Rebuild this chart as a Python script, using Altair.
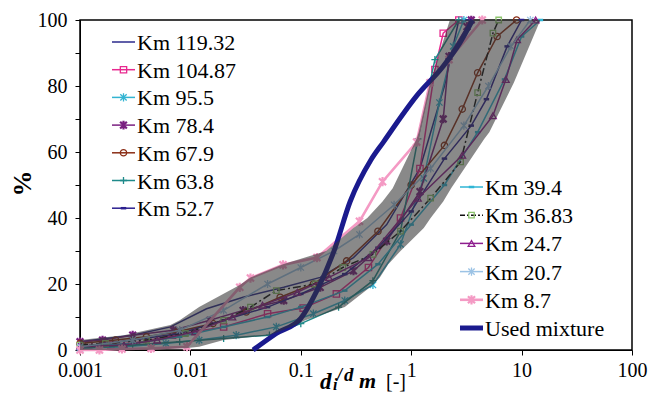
import altair as alt
import pandas as pd

# ---------------- data ----------------
km119_x = [0.001, 0.003, 0.0066, 0.014, 0.03, 0.07, 0.15, 0.3, 0.6, 1.2, 2.0, 2.7, 3.6]
km119_y = [2.5, 4.5, 7, 12.5, 16, 19, 22, 28, 38, 55, 80, 100, 100]

km104_x = [0.0012, 0.0019, 0.0037, 0.0069, 0.02, 0.05, 0.105, 0.21, 0.41, 0.8, 1.2, 1.64, 1.95, 2.7]
km104_y = [1.5, 1.5, 2.5, 4.5, 7, 11, 12.7, 17, 25, 40, 55, 85, 96, 100]

km95_x = [0.001, 0.0025, 0.006, 0.012, 0.026, 0.06, 0.13, 0.25, 0.45, 0.8, 1.3, 1.8, 2.4, 3.0]
km95_y = [0.5, 1, 2, 3, 4.5, 7, 11, 15, 19.7, 32, 52, 75, 92, 100]

km78_x = [0.001, 0.0016, 0.003, 0.007, 0.015, 0.03, 0.07, 0.15, 0.3, 0.6, 1.2, 1.95, 2.2, 3.2, 3.5]
km78_y = [2.5, 3, 4.5, 6, 9, 12, 15, 19, 24, 33, 48, 70, 89, 98, 100]

km67_x = [0.001, 0.0021, 0.004, 0.0076, 0.016, 0.032, 0.065, 0.13, 0.26, 0.5, 1.0, 2.0, 2.9, 4.0, 6.0, 9.0]
km67_y = [2, 3, 4, 5.5, 8, 11.5, 16, 20, 27, 36, 50, 62, 73, 84, 95, 100]

km63_x = [0.001, 0.003, 0.008, 0.02, 0.052, 0.1, 0.22, 0.45, 0.8, 1.15, 1.64, 2.7]
km63_y = [0.5, 1.5, 2.5, 3.5, 4.5, 8, 13, 21, 36, 64, 88, 100]

km52_x = [0.001, 0.003, 0.008, 0.02, 0.05, 0.1, 0.25, 0.5, 1, 2, 3.5, 4.8, 7.4, 10]
km52_y = [1, 3, 5, 9, 13, 17, 23, 31, 42, 58, 68, 76, 92, 100]

km39_x = [0.001, 0.003, 0.008, 0.02, 0.05, 0.1, 0.25, 0.5, 1, 2, 4, 7, 10, 14.8]
km39_y = [1, 2, 4, 7, 10, 13, 18, 26, 38, 50, 66, 82, 95, 100]

km36_x = [0.001, 0.0017, 0.004, 0.009, 0.02, 0.035, 0.06, 0.135, 0.24, 0.45, 0.8, 1.5, 2.8, 4.0, 5.5, 6.2]
km36_y = [1.5, 2, 3, 5, 9, 13, 18, 20, 25, 29, 36, 46, 57, 78, 96, 100]

km24_x = [0.001, 0.0025, 0.005, 0.011, 0.024, 0.045, 0.093, 0.18, 0.41, 1.15, 2.9, 5.5, 7.2, 9.1, 13.4]
km24_y = [1, 1.5, 3, 5.5, 10, 13.6, 17.5, 22, 28, 46, 59, 71, 82, 94, 100]

km20_x = [0.001, 0.003, 0.008, 0.02, 0.05, 0.1, 0.2, 0.34, 0.7, 1.5, 3, 5, 8, 12]
km20_y = [1, 3, 6, 12, 20, 25, 30, 35, 44, 55, 68, 80, 92, 100]

km8_x = [0.001, 0.0015, 0.0024, 0.0044, 0.0093, 0.028, 0.035, 0.069, 0.14, 0.34, 0.55, 1.12, 1.48, 2.2, 4.4]
km8_y = [0, 0, 0.3, 0.5, 1, 19, 21.8, 25.8, 28, 39, 51, 63, 81, 88, 100]

mix_x = [0.037, 0.06, 0.1, 0.14, 0.2, 0.28, 0.43, 0.56, 1.12, 1.95, 2.75, 3.6]
mix_y = [0, 5, 9.6, 18, 30, 45, 57.5, 63, 77, 86, 93, 100]

env_pct = [0, 0.5, 1, 3, 4.5, 7.6, 9, 13, 19.7, 22, 26, 30, 37, 40, 45, 49, 64, 66, 81, 100]
env_left = [0.001, 0.001, 0.001, 0.001, 0.0025, 0.0066, 0.008, 0.012, 0.028, 0.035, 0.069, 0.17,
            0.3, 0.4, 0.55, 0.68, 1.12, 1.17, 1.48, 2.24]
env_right = [0.004, 0.009, 0.012, 0.02, 0.052, 0.09, 0.11, 0.25, 0.45, 0.52, 0.62, 0.8,
             1.3, 1.5, 1.95, 2.3, 4.6, 5.1, 8.5, 14.8]

x_ticks = [0.001, 0.01, 0.1, 1, 10, 100]
y_ticks = [0, 10, 20, 30, 40, 50, 60, 70, 80, 90, 100]

# ---------------- styles ----------------
SQ = "square"
CI = "circle"
TRI = "triangle-up"
AST = "M-1,-1L1,1M-1,1L1,-1M0,-1.3L0,1.3"
PLUS = "M-1,0L1,0M0,-1L0,1"
DASH = "M-1,0L1,0"

series = [
    ("Km 119.32", km119_x, km119_y, dict(color="#2B2A8C", shape=None)),
    ("Km 104.87", km104_x, km104_y, dict(color="#E8298F", shape=SQ, size=40)),
    ("Km 95.5", km95_x, km95_y, dict(color="#33B4D2", shape=AST, size=40)),
    ("Km 78.4", km78_x, km78_y, dict(color="#7A1F80", shape=AST, size=45, mw=2.2)),
    ("Km 67.9", km67_x, km67_y, dict(color="#8B2E16", shape=CI, size=40)),
    ("Km 63.8", km63_x, km63_y, dict(color="#1F8A8A", shape=PLUS, size=50)),
    ("Km 52.7", km52_x, km52_y, dict(color="#2B1F8F", shape=DASH, size=30, mw=2.5)),
    ("Km 39.4", km39_x, km39_y, dict(color="#2FB5D5", shape=DASH, size=30, mw=2.5)),
    ("Km 36.83", km36_x, km36_y, dict(color="#111111", mcolor="#8DC46E", shape=SQ, size=30, dash=[8, 3, 2, 3])),
    ("Km 24.7", km24_x, km24_y, dict(color="#8E1E8E", shape=TRI, size=45)),
    ("Km 20.7", km20_x, km20_y, dict(color="#9CC3E5", shape=AST, size=40)),
    ("Km 8.7", km8_x, km8_y, dict(color="#F49AC4", shape=AST, size=50, sw=2.6, mw=2.2)),
]

FONT = "Liberation Serif"
W, H = 552, 330

xscale = alt.Scale(type="log", domain=[0.001, 100], nice=False)
yscale = alt.Scale(domain=[0, 100], nice=False, zero=False)

xaxis = alt.Axis(values=x_ticks, format="~g", title=None, grid=False, tickSize=5,
                 labelPadding=5, labelFontSize=20, labelFont=FONT, labelColor="black",
                 domainColor="black", tickColor="black", labelOverlap=False, labelFlush=False)
yaxis = alt.Axis(values=y_ticks, labelExpr="datum.value % 20 == 0 ? datum.label : ''",
                 title="%", titleFont=FONT, titleFontSize=26, titleFontWeight="bold",
                 titleAngle=270, titleX=-58, titleY=163, titleAlign="center",
                 titleBaseline="middle", titleColor="black", grid=False, tickSize=5,
                 labelPadding=8, labelFontSize=20, labelFont=FONT, labelColor="black",
                 domainColor="black", tickColor="black", labelOverlap=False, labelFlush=False)


def enc(chart):
    return chart.encode(x=alt.X("x:Q", scale=xscale, axis=xaxis),
                        y=alt.Y("y:Q", scale=yscale, axis=yaxis))


layers = []
for name, xs, ys, st in series:
    df = pd.DataFrame({"x": xs, "y": ys})
    line_kw = dict(color=st["color"], strokeWidth=st.get("sw", 1.5))
    if "dash" in st:
        line_kw["strokeDash"] = st["dash"]
    layers.append(enc(alt.Chart(df).mark_line(**line_kw)))
    if st["shape"]:
        mc = st.get("mcolor", st["color"])
        layers.append(enc(alt.Chart(df).mark_point(shape=st["shape"], size=st["size"], filled=False,
                                                   color=mc, strokeWidth=st.get("mw", 1.3), opacity=1)))

mix_df = pd.DataFrame({"x": mix_x, "y": mix_y})
layers.append(enc(alt.Chart(mix_df).mark_line(color="#1A1A8E", strokeWidth=5, interpolate="monotone")))

env_df = pd.DataFrame({"y": env_pct, "xl": env_left, "xr": env_right})
layers.append(alt.Chart(env_df).mark_area(orient="horizontal", color="#333333", opacity=0.58).encode(
    y=alt.Y("y:Q", scale=yscale, axis=yaxis),
    x=alt.X("xl:Q", scale=xscale, axis=xaxis),
    x2="xr:Q"))

# ---------------- legends (drawn as marks, positions in pixels) ----------------
legend1 = [s for s in series[:7]]
legend2 = [s for s in series[7:]] + [("Used mixture", None, None, dict(color="#1A1A8E", shape=None, sw=5))]


def legend_layers(entries, x0, y0, dy):
    out = []
    for i, (name, _, _, st) in enumerate(entries):
        y = y0 + dy * i
        d = pd.DataFrame({"label": [name]})
        kw = dict(color=st["color"], strokeWidth=st.get("sw", 1.5))
        if "dash" in st:
            kw["strokeDash"] = [5, 2, 2, 2]
        out.append(alt.Chart(d).mark_rule(**kw).encode(
            x=alt.value(x0), x2=alt.value(x0 + 23), y=alt.value(y)))
        if st["shape"]:
            out.append(alt.Chart(d).mark_point(shape=st["shape"], size=st["size"], filled=False,
                                               color=st.get("mcolor", st["color"]),
                                               strokeWidth=st.get("mw", 1.3), opacity=1).encode(
                x=alt.value(x0 + 11.5), y=alt.value(y)))
        out.append(alt.Chart(d).mark_text(align="left", baseline="middle", font=FONT, fontSize=22,
                                          color="black").encode(
            text="label:N", x=alt.value(x0 + 25), y=alt.value(y + 1)))
    return out


layers += legend_layers(legend1, 32, 22, 27.7)
layers += legend_layers(legend2, 380, 167, 28.2)

# ---------------- x-axis title built from pieces ----------------
title_pieces = [
    ("d", 240, 389, 23, "bold", "italic"),
    ("i", 253, 390, 16, "bold", "italic"),
    ("/", 257, 381, 18, "bold", "italic"),
    ("d", 264, 381, 19, "bold", "italic"),
    ("m", 279, 388, 22, "bold", "italic"),
    ("[-]", 306, 388, 20, "normal", "normal"),
]
for txt, px, py, fs, fw, fst in title_pieces:
    d = pd.DataFrame({"t": [txt]})
    layers.append(alt.Chart(d).mark_text(align="left", baseline="alphabetic", font=FONT, fontSize=fs,
                                         fontWeight=fw, fontStyle=fst, color="black").encode(
        text="t:N", x=alt.value(px), y=alt.value(py - 20)))

chart = alt.layer(*layers).properties(
    width=W, height=H,
    padding={"left": 72, "top": 12, "right": 20, "bottom": 62},
    autosize=alt.AutoSizeParams(type="none"),
    background="white",
).configure_view(stroke="black", strokeWidth=1.5)

chart.save("out.html", embed_options={"renderer": "svg", "actions": False})
